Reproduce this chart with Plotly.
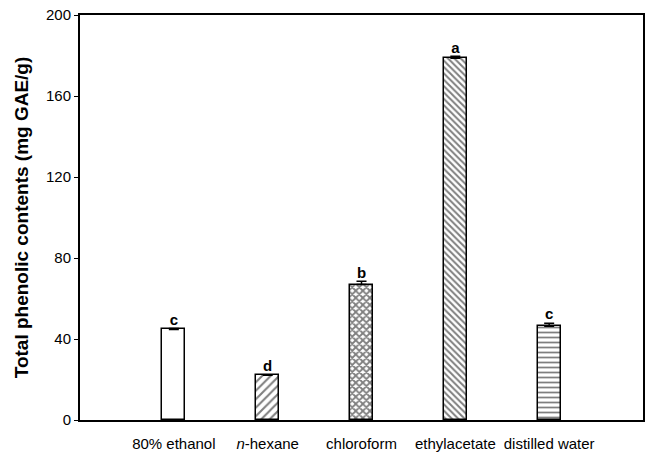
import plotly.graph_objects as go

# Solvent fractions and their total phenolic contents (mg GAE/g)
categories = ["80% ethanol", "<i>n</i>-hexane", "chloroform", "ethylacetate", "distilled water"]
values = [44.7, 22.1, 66.9, 178.6, 46.3]
errors = [0.5, 0.3, 1.6, 1.0, 1.5]
letters = ["c", "d", "b", "a", "c"]
patterns = ["", "/", "x", "\\", "-"]
pattern_sizes = [6, 6, 5, 4.5, 5]
pattern_solidity = [0.3, 0.35, 0.6, 0.45, 0.35]

positions = list(range(len(categories)))
font_family = "Liberation Sans, Arial, sans-serif"

fig = go.Figure()

fig.add_trace(go.Bar(
    x=positions,
    y=values,
    width=0.245,
    marker=dict(
        color="white",
        line=dict(color="black", width=1.5),
        pattern=dict(
            shape=patterns,
            fgcolor="black",
            bgcolor="white",
            size=pattern_sizes,
            solidity=pattern_solidity,
            fillmode="overlay",
        ),
    ),
    error_y=dict(
        type="data",
        symmetric=False,
        array=errors,
        arrayminus=[0] * len(errors),
        color="black",
        thickness=1.5,
        width=5,
    ),
    showlegend=False,
))

# Significance letters above each bar
fig.add_trace(go.Scatter(
    x=positions,
    y=[v + e for v, e in zip(values, errors)],
    mode="text",
    text=letters,
    textposition="top center",
    textfont=dict(family=font_family, size=15, color="black", weight="bold"),
    showlegend=False,
    cliponaxis=False,
))

fig.update_layout(
    width=648,
    height=455,
    margin=dict(l=80, r=5, t=15, b=35, autoexpand=False),
    paper_bgcolor="white",
    plot_bgcolor="white",
    font=dict(family=font_family, color="black"),
    bargap=0,
)

fig.update_xaxes(
    range=[-1, 5],
    tickvals=positions,
    ticktext=categories,
    ticks="",
    ticklabelstandoff=9,
    automargin=False,
    showgrid=False,
    zeroline=False,
    showline=True,
    linecolor="black",
    linewidth=2,
    mirror=True,
    tickfont=dict(size=15, color="black"),
)

fig.update_yaxes(
    range=[0, 200],
    tickvals=[0, 40, 80, 120, 160, 200],
    ticks="outside",
    ticklen=4,
    tickwidth=1,
    tickcolor="black",
    automargin=False,
    showgrid=False,
    zeroline=False,
    showline=True,
    linecolor="black",
    linewidth=2,
    mirror=True,
    tickfont=dict(size=15, color="black"),
    title=dict(
        text="Total phenolic contents (mg GAE/g)",
        font=dict(size=19, color="black", weight="bold"),
        standoff=12,
    ),
)

fig.write_html("out.html")
